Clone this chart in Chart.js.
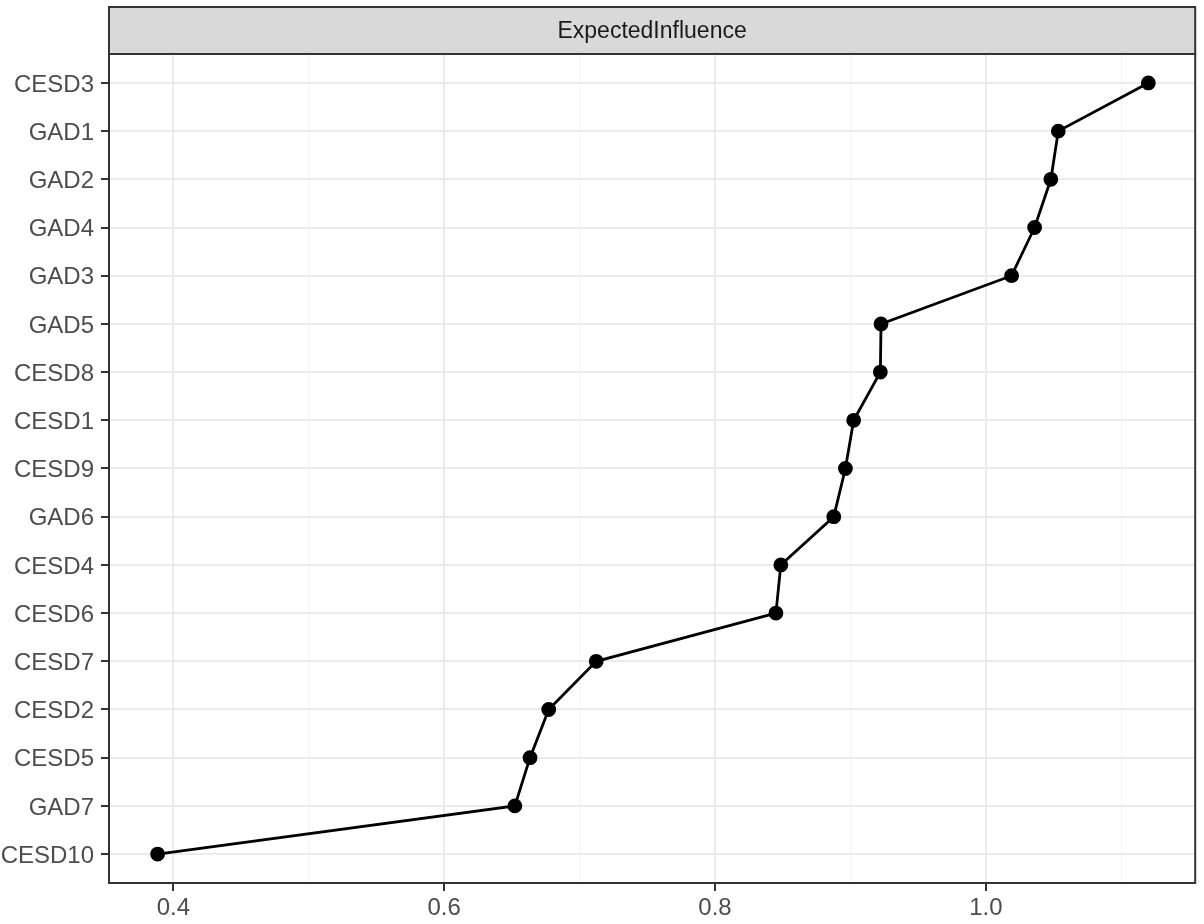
<!DOCTYPE html>
<html>
<head>
<meta charset="utf-8">
<script src="https://cdn.jsdelivr.net/npm/chart.js@4/dist/chart.umd.min.js"></script>
<style>
  body { margin: 0; background: #fff; }
  canvas { display: block; }
</style>
</head>
<body>
<canvas id="centralityChart" width="1204" height="924"></canvas>
<script>
var nodes = ["CESD3", "GAD1", "GAD2", "GAD4", "GAD3", "GAD5", "CESD8", "CESD1", "CESD9",
             "GAD6", "CESD4", "CESD6", "CESD7", "CESD2", "CESD5", "GAD7", "CESD10"];
var expectedInfluence = [1.120, 1.0535, 1.048, 1.036, 1.019, 0.9226, 0.9221, 0.9024, 0.8963,
                         0.8877, 0.8486, 0.845, 0.7123, 0.6772, 0.6634, 0.6522, 0.3884];
var xTicks = [0.4, 0.5, 0.6, 0.7, 0.8, 0.9, 1.0, 1.1];   // odd tenths are minor grid lines
var stripLabel = "ExpectedInfluence";

var FONT = "'Liberation Sans', Arial, sans-serif";

function isMajor(v) {
  return Math.round(v * 10) % 2 === 0;
}

// facet strip + panel border, drawn like ggplot theme_bw
var panelPlugin = {
  id: 'panel',
  afterDraw: function(chart) {
    var a = chart.chartArea, c = chart.ctx;
    c.save();
    c.fillStyle = '#D9D9D9';
    c.fillRect(a.left, 7, a.right - a.left, a.top - 7);
    c.strokeStyle = '#333333';
    c.lineWidth = 2;
    c.strokeRect(a.left, 7, a.right - a.left, a.top - 7);
    c.strokeRect(a.left, a.top, a.right - a.left, a.bottom - a.top);
    c.fillStyle = '#1A1A1A';
    c.font = '23px ' + FONT;
    c.textAlign = 'center';
    c.textBaseline = 'middle';
    c.fillText(stripLabel, (a.left + a.right) / 2, (7 + a.top) / 2 + 1);
    c.restore();
  }
};

var ctx = document.getElementById("centralityChart").getContext("2d");
var centralityChart = new Chart(ctx, {
  type: 'scatter',
  data: {
    datasets: [{
      label: stripLabel,
      data: expectedInfluence.map(function(v, i) { return { x: v, y: i }; }),
      showLine: true,
      borderColor: '#000000',
      backgroundColor: '#000000',
      borderWidth: 2.8,
      pointRadius: 6,
      pointHoverRadius: 6,
      tension: 0
    }]
  },
  options: {
    responsive: false,
    animation: false,
    layout: { padding: { top: 54, right: 6, left: 0, bottom: 0 } },
    plugins: {
      legend: { display: false },
      tooltip: { enabled: false }
    },
    scales: {
      x: {
        type: 'linear',
        min: 0.3525,
        max: 1.1546,
        afterBuildTicks: function(axis) {
          axis.ticks = xTicks.map(function(v) { return { value: v }; });
        },
        afterFit: function(axis) { axis.height = 41; },
        border: { display: false },
        grid: {
          color: function(c) { return isMajor(c.tick.value) ? '#EBEBEB' : '#F4F4F4'; },
          lineWidth: function(c) { return isMajor(c.tick.value) ? 2 : 1.2; },
          tickColor: function(c) { return isMajor(c.tick.value) ? '#333333' : 'rgba(0,0,0,0)'; },
          tickWidth: 2,
          tickLength: 8,
          drawTicks: true
        },
        ticks: {
          autoSkip: false,
          maxRotation: 0,
          padding: 3,
          color: '#4D4D4D',
          font: { family: FONT, size: 24 },
          callback: function(v) { return isMajor(v) ? v.toFixed(1) : ''; }
        }
      },
      y: {
        type: 'linear',
        reverse: true,
        min: -0.6,
        max: nodes.length - 1 + 0.6,
        afterBuildTicks: function(axis) {
          axis.ticks = nodes.map(function(n, i) { return { value: i }; });
        },
        afterFit: function(axis) { axis.width = 109; },
        border: { display: false },
        grid: {
          color: '#EBEBEB',
          lineWidth: 2,
          tickColor: '#333333',
          tickWidth: 2,
          tickLength: 8
        },
        ticks: {
          autoSkip: false,
          padding: 7,
          labelOffset: 2,
          color: '#4D4D4D',
          font: { family: FONT, size: 24 },
          callback: function(v) { return nodes[v]; }
        }
      }
    }
  },
  plugins: [panelPlugin]
});
</script>
</body>
</html>
